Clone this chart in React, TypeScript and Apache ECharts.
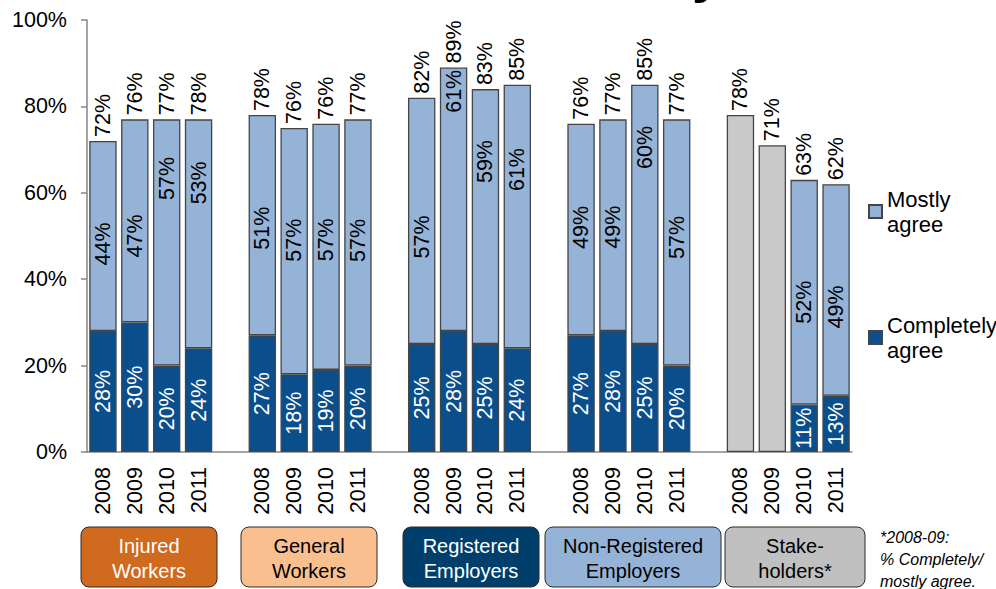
import React, { useEffect, useRef } from 'react';
import * as echarts from 'echarts';

const years = ['2008', '2009', '2010', '2011'];
const groupNames = ['Injured\nWorkers', 'General\nWorkers', 'Registered\nEmployers', 'Non-Registered\nEmployers', 'Stake-\nholders*'];

// 5 groups x 4 years (Injured, General, Registered, Non-Registered, Stakeholders)
const completelyAgree: (number | null)[] = [28, 30, 20, 24, 27, 18, 19, 20, 25, 28, 25, 24, 27, 28, 25, 20, null, null, 11, 13];
const mostlyAgree: (number | null)[] = [44, 47, 57, 53, 51, 57, 57, 57, 57, 61, 59, 61, 49, 49, 60, 57, null, null, 52, 49];
const combinedAgree: (number | null)[] = [null, null, null, null, null, null, null, null, null, null, null, null, null, null, null, null, 78, 71, null, null];
const totalLabels: number[] = [72, 76, 77, 78, 78, 76, 76, 77, 82, 89, 83, 85, 76, 77, 85, 77, 78, 71, 63, 62];
const yTicks = [0, 20, 40, 60, 80, 100];

const FONT = '"Liberation Sans", Arial, sans-serif';
const DARK = '#0B4E8C';
const LIGHT = '#95B3D7';
const GREY = '#C9C9C9';
const EDGE = '#454545';

// vertical nudge (px, positive = up) of the "Mostly agree" value labels
const lightLabelShift = [-8, -15, 64, 51, -3, 11, 7, 2, -16, 108, 55, 47, 2, -2, 67, 5, 0, 0, -10, -17];

export default function App() {
  const ref = useRef<HTMLDivElement>(null);
  useEffect(() => {
    document.body.style.margin = '0';
    if (!ref.current) return;
    const chart = echarts.init(ref.current, null, { renderer: 'svg' });

    const categories: string[] = [];
    const slotIndex: number[] = []; // slot -> data index or -1
    groupNames.forEach((_, g) => {
      years.forEach((y, i) => {
        categories.push(y);
        slotIndex.push(g * 4 + i);
      });
      if (g < groupNames.length - 1) {
        categories.push('');
        slotIndex.push(-1);
      }
    });
    const pick = (arr: (number | null)[]) => slotIndex.map((k) => (k < 0 || arr[k] == null ? '-' : arr[k]));

    const darkData = pick(completelyAgree);
    const lightData = slotIndex.map((k) => {
      if (k < 0 || mostlyAgree[k] == null) return '-';
      return { value: mostlyAgree[k], label: { offset: [lightLabelShift[k], 0] } };
    });
    const greyData = pick(combinedAgree);
    const totalData = slotIndex.map((k) => (k < 0 ? '-' : 0));

    const baseLabel = {
      show: true,
      rotate: 90,
      fontSize: 21.5,
      fontFamily: FONT,
      formatter: (p: any) => p.value + '%',
    };

    const boxes = [
      { x: 81, w: 136, fill: '#CF6A1E', color: '#ffffff', text: groupNames[0] },
      { x: 241, w: 136, fill: '#F9BF8F', color: '#000000', text: groupNames[1] },
      { x: 403, w: 136, fill: '#003F6C', color: '#ffffff', text: groupNames[2] },
      { x: 545, w: 176, fill: '#95B3D7', color: '#000000', text: groupNames[3] },
      { x: 725, w: 140, fill: '#C0C0C0', color: '#000000', text: groupNames[4] },
    ];

    chart.setOption({
      animation: false,
      textStyle: { fontFamily: FONT },
      grid: { left: 87, right: 144, top: 20, bottom: 137, containLabel: false },
      legend: {
        orient: 'vertical',
        left: 868,
        top: 174,
        padding: 0,
        itemGap: 51,
        itemWidth: 13,
        itemHeight: 13,
        icon: 'rect',
        data: ['Mostly agree', 'Completely agree'],
        formatter: (n: string) => n.replace(' ', '\n'),
        textStyle: { fontSize: 22, fontFamily: FONT, color: '#000', lineHeight: 25, padding: [25, 0, 0, 0] },
      },
      xAxis: {
        type: 'category',
        data: categories,
        axisLine: { lineStyle: { color: '#868686', width: 1.5 } },
        axisTick: { interval: 0, length: 6, lineStyle: { color: '#868686', width: 1.5 } },
        axisLabel: { interval: 0, rotate: 90, fontSize: 21.5, color: '#000', margin: 15, fontFamily: FONT },
      },
      yAxis: {
        type: 'value',
        min: yTicks[0],
        max: yTicks[yTicks.length - 1],
        interval: yTicks[1] - yTicks[0],
        splitLine: { show: false },
        axisLine: { show: true, lineStyle: { color: '#868686', width: 1.5 } },
        axisTick: { show: true, length: 6, lineStyle: { color: '#868686', width: 1.5 } },
        axisLabel: { formatter: '{value}%', fontSize: 21.5, color: '#000', margin: 20, fontFamily: FONT },
      },
      series: [
        {
          name: 'Completely agree',
          type: 'bar',
          stack: 'all',
          barWidth: '86%',
          data: darkData,
          itemStyle: { color: DARK, borderColor: EDGE, borderWidth: 1.3 },
          label: { ...baseLabel, position: 'inside', color: '#ffffff' },
        },
        {
          name: 'Mostly agree',
          type: 'bar',
          stack: 'all',
          barWidth: '86%',
          data: lightData,
          itemStyle: { color: LIGHT, borderColor: EDGE, borderWidth: 1.3 },
          label: { ...baseLabel, position: 'inside', color: '#000000' },
        },
        {
          name: 'Completely/mostly agree',
          type: 'bar',
          stack: 'all',
          barWidth: '86%',
          data: greyData,
          itemStyle: { color: GREY, borderColor: EDGE, borderWidth: 1.3 },
          label: { show: false },
        },
        {
          name: 'Total',
          type: 'bar',
          stack: 'all',
          barWidth: '86%',
          data: totalData,
          itemStyle: { color: 'rgba(0,0,0,0)', borderWidth: 0 },
          label: {
            show: true,
            position: 'top',
            rotate: 90,
            align: 'left',
            verticalAlign: 'middle',
            distance: 4,
            fontSize: 21.5,
            fontFamily: FONT,
            color: '#000',
            formatter: (p: any) => {
              const k = slotIndex[p.dataIndex];
              return k < 0 ? '' : totalLabels[k] + '%';
            },
          },
        },
      ],
      graphic: [
        {
          type: 'text',
          left: 692,
          top: -54,
          style: { text: 'y', fontSize: 54, fontWeight: 'bold', fontFamily: FONT, fill: '#000' },
        },
        ...boxes.map((b) => ({
          type: 'group',
          children: [
            {
              type: 'rect',
              shape: { x: b.x, y: 527, width: b.w, height: 60, r: 8 },
              style: { fill: b.fill, stroke: '#2b2b2b', lineWidth: 1 },
            },
            {
              type: 'text',
              x: b.x + b.w / 2,
              y: 558,
              style: {
                text: b.text,
                fontSize: 20,
                lineHeight: 25,
                fontFamily: FONT,
                fill: b.color,
                align: 'center',
                verticalAlign: 'middle',
              },
            },
          ],
        })),
        {
          type: 'text',
          x: 880,
          y: 559,
          style: {
            text: '*2008-09:\n% Completely/\nmostly agree.',
            fontSize: 16,
            fontStyle: 'italic',
            lineHeight: 22,
            fontFamily: FONT,
            fill: '#000',
            align: 'left',
            verticalAlign: 'middle',
          },
        },
      ],
    });
    return () => chart.dispose();
  }, []);
  return <div ref={ref} style={{ width: 996, height: 589 }} />;
}
